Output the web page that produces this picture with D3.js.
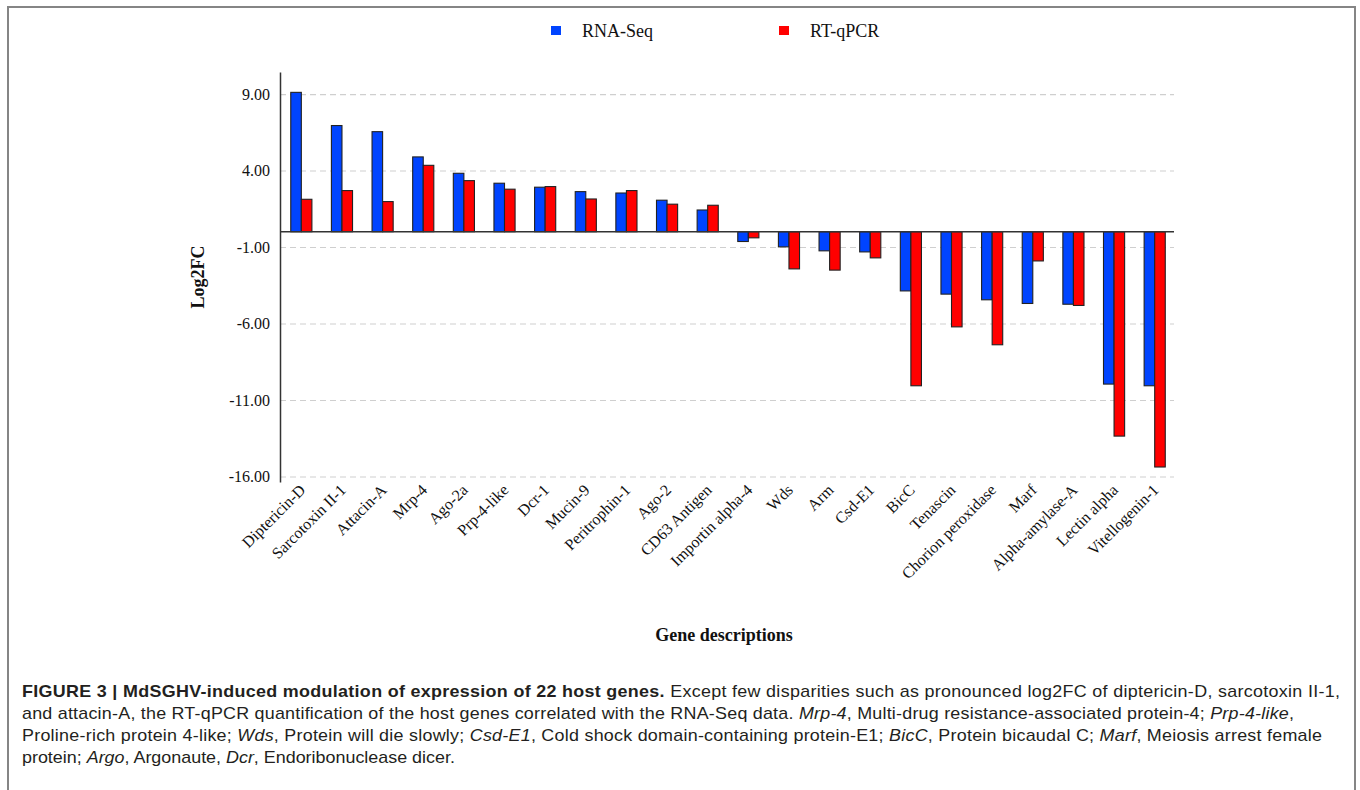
<!DOCTYPE html>
<html>
<head>
<meta charset="utf-8">
<script src="https://cdn.jsdelivr.net/npm/d3@7"></script>
<style>
  body { margin: 0; background: #fff; }
  svg { display: block; }
</style>
</head>
<body>
<div id="chart"></div>
<script>
// Host genes and their log2 fold changes from the two methods
const genes = [
  "Diptericin-D", "Sarcotoxin II-1", "Attacin-A", "Mrp-4", "Ago-2a", "Prp-4-like",
  "Dcr-1", "Mucin-9", "Peritrophin-1", "Ago-2", "CD63 Antigen", "Importin alpha-4",
  "Wds", "Arm", "Csd-E1", "BicC", "Tenascin", "Chorion peroxidase", "Marf",
  "Alpha-amylase-A", "Lectin alpha", "Vitellogenin-1"
];
const rnaSeq = [
  9.11, 6.94, 6.54, 4.89, 3.82, 3.17,
  2.91, 2.62, 2.53, 2.06, 1.42, -0.64,
  -0.99, -1.25, -1.32, -3.87, -4.08, -4.45, -4.69,
  -4.74, -9.96, -10.07
];
const rtqPCR = [
  2.12, 2.69, 1.97, 4.34, 3.34, 2.78,
  2.95, 2.14, 2.69, 1.80, 1.73, -0.40,
  -2.43, -2.51, -1.71, -10.07, -6.22, -7.39, -1.91,
  -4.82, -13.36, -15.38
];
const seriesNames = ["RNA-Seq", "RT-qPCR"];
const seriesColors = ["#0044ff", "#ff0000"];
const yTickValues = [9, 4, -1, -6, -11, -16];
const yDomain = [-16.36, 10.44];

const captionLines = [
  [["b", "FIGURE 3 | MdSGHV-induced modulation of expression of 22 host genes."], ["n", " Except few disparities such as pronounced log2FC of diptericin-D, sarcotoxin II-1,"]],
  [["n", "and attacin-A, the RT-qPCR quantification of the host genes correlated with the RNA-Seq data. "], ["i", "Mrp-4"], ["n", ", Multi-drug resistance-associated protein-4; "], ["i", "Prp-4-like"], ["n", ","]],
  [["n", "Proline-rich protein 4-like; "], ["i", "Wds"], ["n", ", Protein will die slowly; "], ["i", "Csd-E1"], ["n", ", Cold shock domain-containing protein-E1; "], ["i", "BicC"], ["n", ", Protein bicaudal C; "], ["i", "Marf"], ["n", ", Meiosis arrest female"]],
  [["n", "protein; "], ["i", "Argo"], ["n", ", Argonaute, "], ["i", "Dcr"], ["n", ", Endoribonuclease dicer."]]
];
// Rendered width of each caption line (px)
const captionWidths = [1318, 1272, 1300, null];

const W = 1360, H = 790;
const plot = { left: 280, right: 1174, top: 72, bottom: 482 };
const serif = "'Liberation Serif', 'Times New Roman', serif";
const sans = "'Liberation Sans', Arial, Helvetica, sans-serif";
const captionStretch = 1.12;

const svg = d3.select("#chart").append("svg")
  .attr("width", W).attr("height", H);

// Figure frame
svg.append("rect")
  .attr("x", 8).attr("y", 7).attr("width", 1347).attr("height", 800)
  .attr("fill", "none").attr("stroke", "#858585").attr("stroke-width", 2);

const x0 = d3.scaleBand().domain(genes).range([plot.left, plot.right]);
const x1 = d3.scaleBand().domain(seriesNames)
  .range([x0.bandwidth() * 0.265, x0.bandwidth() * 0.785]);
const y = d3.scaleLinear().domain(yDomain).range([plot.bottom, plot.top]);
const color = d3.scaleOrdinal().domain(seriesNames).range(seriesColors);

// Dashed horizontal gridlines
const grid = svg.append("g")
  .attr("transform", `translate(${plot.left},0)`)
  .call(d3.axisLeft(y).tickValues(yTickValues)
    .tickSize(-(plot.right - plot.left)).tickFormat(""));
grid.select(".domain").remove();
grid.selectAll(".tick line")
  .attr("stroke", "#cfcfcf").attr("stroke-width", 1.2)
  .attr("stroke-dasharray", "6,4");

// Bars
const rows = genes.map((g, i) => ({ gene: g, values: [rnaSeq[i], rtqPCR[i]] }));
const groups = svg.append("g").selectAll("g")
  .data(rows).join("g")
  .attr("transform", d => `translate(${x0(d.gene)},0)`);
groups.selectAll("rect")
  .data(d => d.values.map((v, k) => ({ series: seriesNames[k], value: v })))
  .join("rect")
  .attr("x", d => x1(d.series))
  .attr("width", x1.bandwidth())
  .attr("y", d => y(Math.max(0, d.value)))
  .attr("height", d => Math.abs(y(d.value) - y(0)))
  .attr("fill", d => color(d.series))
  .attr("stroke", "#222").attr("stroke-width", 1.1);

// Zero baseline
svg.append("line")
  .attr("x1", plot.left).attr("x2", plot.right)
  .attr("y1", y(0)).attr("y2", y(0))
  .attr("stroke", "#333").attr("stroke-width", 1.5);

// Y axis
const yAxis = svg.append("g")
  .attr("transform", `translate(${plot.left},0)`)
  .call(d3.axisLeft(y).tickValues(yTickValues)
    .tickFormat(d => d.toFixed(2)).tickSize(0).tickSizeOuter(0).tickPadding(10));
yAxis.attr("font-family", serif).attr("font-size", 16);
yAxis.select(".domain").attr("stroke", "#333").attr("stroke-width", 1.5);
yAxis.selectAll("text").attr("fill", "#111");

// X axis category labels
const xAxis = svg.append("g")
  .attr("transform", `translate(0,${plot.bottom})`)
  .call(d3.axisBottom(x0).tickSize(0));
xAxis.attr("font-family", serif).attr("font-size", 16);
xAxis.select(".domain").remove();
xAxis.selectAll(".tick text")
  .attr("fill", "#111")
  .attr("text-anchor", "end")
  .attr("x", 0).attr("y", 0).attr("dy", null)
  .attr("transform", "translate(6,9) rotate(-45)");

// Axis titles
svg.append("text")
  .attr("transform", `translate(204,${(plot.top + plot.bottom) / 2}) rotate(-90)`)
  .attr("text-anchor", "middle")
  .attr("font-family", serif).attr("font-weight", "bold").attr("font-size", 18)
  .attr("fill", "#111").text("Log2FC");
svg.append("text")
  .attr("x", 724).attr("y", 641).attr("text-anchor", "middle")
  .attr("font-family", serif).attr("font-weight", "bold").attr("font-size", 18)
  .attr("fill", "#111").text("Gene descriptions");

// Legend
const legendPos = [551, 779];
const legend = svg.append("g").selectAll("g")
  .data(seriesNames).join("g")
  .attr("transform", (d, i) => `translate(${legendPos[i]},26)`);
legend.append("rect")
  .attr("width", 10).attr("height", 9)
  .attr("fill", d => color(d));
legend.append("text")
  .attr("x", 31).attr("y", 11)
  .attr("font-family", serif).attr("font-size", 18).attr("fill", "#111")
  .text(d => d);

// Caption: slightly widened sans text, justified to the frame on full lines
const caption = svg.append("g").attr("font-family", sans).attr("font-size", 16).attr("fill", "#231f20");
captionLines.forEach((parts, li) => {
  const t = caption.append("text")
    .attr("x", 0).attr("y", 0)
    .attr("transform", `translate(22,${697 + li * 22}) scale(${captionStretch},1)`);
  if (captionWidths[li]) {
    t.attr("textLength", captionWidths[li] / captionStretch).attr("lengthAdjust", "spacing");
  }
  parts.forEach(([style, str]) => {
    const s = t.append("tspan").text(str);
    if (style === "b") s.attr("font-weight", "bold");
    if (style === "i") s.attr("font-style", "italic");
  });
});
</script>
</body>
</html>
